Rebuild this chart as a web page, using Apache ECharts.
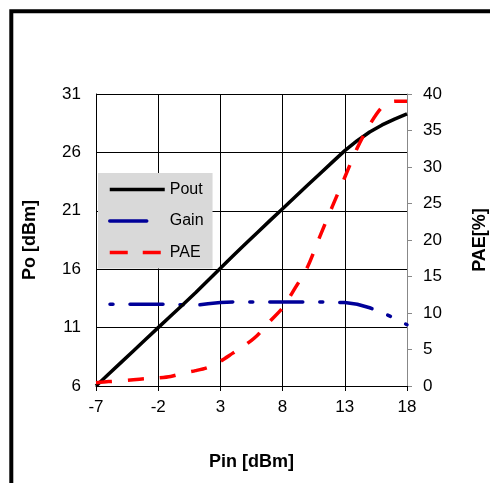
<!DOCTYPE html>
<html><head><meta charset="utf-8">
<script src="https://cdn.jsdelivr.net/npm/echarts@6/dist/echarts.min.js"></script>
<style>html,body{margin:0;padding:0;background:#fff}#c{width:490px;height:483px}</style>
</head><body><div id="c"></div>
<script>
const pin = [-7,-6,-5,-4,-3,-2,-1,0,1,2,3,4,5,6,7,8,9,10,11,12,13,14,15,16,17,18];
const pout = [6.0,7.0,8.0,9.0,10.0,11.0,12.0,12.98,13.98,15.03,16.08,17.12,18.15,19.17,20.18,21.18,22.18,23.18,24.18,25.17,26.15,27.0,27.75,28.35,28.85,29.3];
const gain = [13.0,13.0,13.0,13.0,13.0,13.0,13.0,12.95,12.9,13.05,13.15,13.2,13.2,13.2,13.2,13.2,13.2,13.2,13.2,13.15,13.15,13.0,12.7,12.3,11.8,11.25];
const pae = [0.45,0.6,0.7,0.85,1.0,1.1,1.3,1.75,2.1,2.55,3.4,4.5,5.6,7.0,8.9,10.7,13.4,16.3,20.5,24.6,28.6,32.6,35.8,38.2,39.0,39.0];
const xTicks = {min:-7, max:18, step:5};
const poTicks = {min:6, max:31, step:5};
const paeTicks = {min:0, max:40, step:5};

const FONT = '"Liberation Sans", Arial, sans-serif';
const zip = (a,b)=>a.map((v,i)=>[v,b[i]]);
const chart = echarts.init(document.getElementById('c'), null, {renderer:'canvas'});
chart.setOption({
  animation:false,
  backgroundColor:'#ffffff',
  textStyle:{fontFamily:FONT},
  graphic:[{type:'rect', shape:{x:11.3,y:11.3,width:560,height:560}, style:{fill:null,stroke:'#000',lineWidth:4}, z:-1}],
  grid:{left:96, right:83, top:94, bottom:97, containLabel:false, outerBoundsMode:'none'},
  legend:{
    orient:'vertical', left:98, top:173,
    backgroundColor:'#d9d9d9', padding:[8.5,9,8,10],
    itemWidth:55, itemHeight:14, itemGap:15.5,
    itemStyle:{opacity:0},
    textStyle:{fontFamily:FONT, fontSize:16, color:'#000'},
    data:[
      {name:'Pout', lineStyle:{color:'#000', width:3.5}},
      {name:'Gain', lineStyle:{color:'#000099', width:3.5, type:[37,40], dashOffset:0}},
      {name:'PAE', lineStyle:{color:'#ff0000', width:3.5, type:[18,15], dashOffset:0}}
    ]
  },
  xAxis:{
    type:'value', min:xTicks.min, max:xTicks.max, interval:xTicks.step,
    name:'Pin [dBm]', nameLocation:'middle', nameGap:67,
    nameTextStyle:{fontFamily:FONT, fontSize:18, fontWeight:'bold', color:'#000'},
    axisLine:{onZero:false, lineStyle:{color:'#000', width:1}},
    axisTick:{show:true, inside:false, length:5, lineStyle:{color:'#000'}},
    axisLabel:{fontFamily:FONT, fontSize:17, color:'#000', margin:13},
    splitLine:{show:true, lineStyle:{color:'#000', width:1}}
  },
  yAxis:[{
    type:'value', position:'left', min:poTicks.min, max:poTicks.max, interval:poTicks.step,
    name:'Po [dBm]', nameLocation:'middle', nameGap:57, nameRotate:90,
    nameTextStyle:{fontFamily:FONT, fontSize:18, fontWeight:'bold', color:'#000'},
    axisLine:{show:true, onZero:false, lineStyle:{color:'#000', width:1}},
    axisTick:{show:false},
    axisLabel:{fontFamily:FONT, fontSize:17, color:'#000', margin:15},
    splitLine:{show:true, lineStyle:{color:'#000', width:1}}
  },{
    type:'value', position:'right', min:paeTicks.min, max:paeTicks.max, interval:paeTicks.step,
    name:'PAE[%]', nameLocation:'middle', nameGap:64, nameRotate:90,
    nameTextStyle:{fontFamily:FONT, fontSize:18, fontWeight:'bold', color:'#000'},
    axisLine:{show:true, onZero:false, lineStyle:{color:'#888', width:1}},
    axisTick:{show:true, inside:false, length:5, lineStyle:{color:'#888'}},
    axisLabel:{fontFamily:FONT, fontSize:17, color:'#000', margin:16},
    splitLine:{show:false}
  }],
  series:[
    {name:'Pout', type:'line', yAxisIndex:0, data:zip(pin,pout), symbol:'none', smooth:false,
      lineStyle:{color:'#000', width:3.5, join:'round'}, itemStyle:{color:'#000'}, z:3},
    {name:'Gain', type:'line', yAxisIndex:0, data:zip(pin,gain), symbol:'none', smooth:false,
      lineStyle:{color:'#000099', width:3.5, type:[33,17,3,17], dashOffset:36, cap:'round', join:'round'}, itemStyle:{color:'#000099'}, z:2},
    {name:'PAE', type:'line', yAxisIndex:1, data:zip(pin,pae), symbol:'none', smooth:0.25,
      lineStyle:{color:'#ff0000', width:3.5, type:[16,16], join:'round'}, itemStyle:{color:'#ff0000'}, z:4}
  ]
});
</script></body></html>
